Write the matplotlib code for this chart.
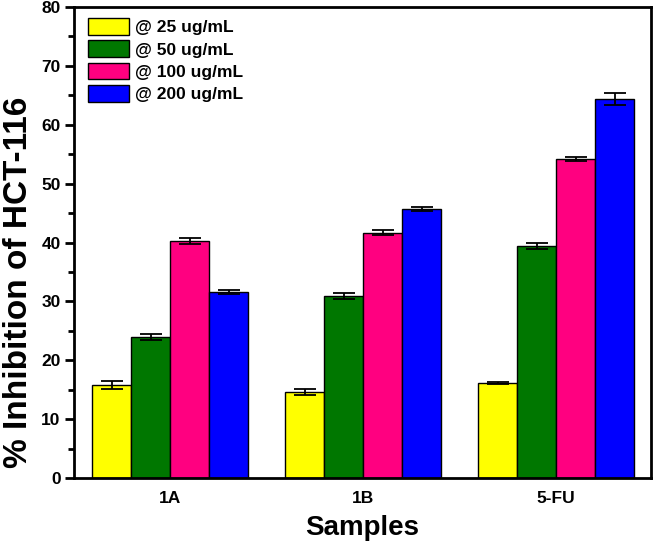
import matplotlib
matplotlib.use('Agg')
import matplotlib.pyplot as plt
import numpy as np

samples = ['1A', '1B', '5-FU']
doses = ['@ 25 ug/mL', '@ 50 ug/mL', '@ 100 ug/mL', '@ 200 ug/mL']
colors = ['#ffff00', '#007700', '#ff0080', '#0000ff']

# % inhibition per dose, ordered as samples
inhib = [
    [15.8, 14.6, 16.1],
    [24.0, 30.9, 39.4],
    [40.2, 41.7, 54.2],
    [31.6, 45.7, 64.4],
]
errs = [
    [0.7, 0.5, 0.15],
    [0.5, 0.5, 0.5],
    [0.5, 0.5, 0.4],
    [0.4, 0.4, 1.0],
]

plt.rcParams['font.family'] = ['Liberation Sans', 'DejaVu Sans']
plt.rcParams['font.weight'] = 'bold'

fig = plt.figure(figsize=(6.54, 5.42), dpi=100)
ax = fig.add_axes([0.113, 0.118, 0.882, 0.869])

x = np.arange(1, len(samples) + 1)
w = 0.202
for i, (lab, c) in enumerate(zip(doses, colors)):
    ax.bar(x + (i - 1.5) * w, inhib[i], w, yerr=errs[i], color=c,
           edgecolor='black', linewidth=1, label=lab,
           error_kw=dict(ecolor='black', elinewidth=1.3, capsize=8, capthick=1.3))

ax.set_xlim(0.5, 3.49)
ax.set_ylim(0, 80)
ax.set_xticks(x)
ax.set_xticklabels(samples)
ax.set_yticks(np.arange(0, 81, 10))
ax.set_yticks(np.arange(5, 80, 10), minor=True)
ax.tick_params(axis='x', length=0, labelsize=12.5, pad=9)
ax.tick_params(axis='y', which='major', direction='out', length=6.5, width=2,
               labelsize=12.5, pad=3)
ax.tick_params(axis='y', which='minor', direction='out', length=4.5, width=2)
for s in ax.spines.values():
    s.set_linewidth(2)

ax.set_ylabel('% Inhibition of HCT-116', fontsize=24, fontweight='bold')
ax.yaxis.set_label_coords(-0.069, 0.415)
ax.set_xlabel('Samples', fontsize=20, fontweight='bold', labelpad=7)

ax.legend(loc='upper left', frameon=False, fontsize=12.5, handlelength=2.4,
          handleheight=1.1, labelspacing=0.3, handletextpad=0.35,
          borderpad=0, borderaxespad=0, bbox_to_anchor=(0.024, 0.977))

fig.savefig('out.png', dpi=100)
